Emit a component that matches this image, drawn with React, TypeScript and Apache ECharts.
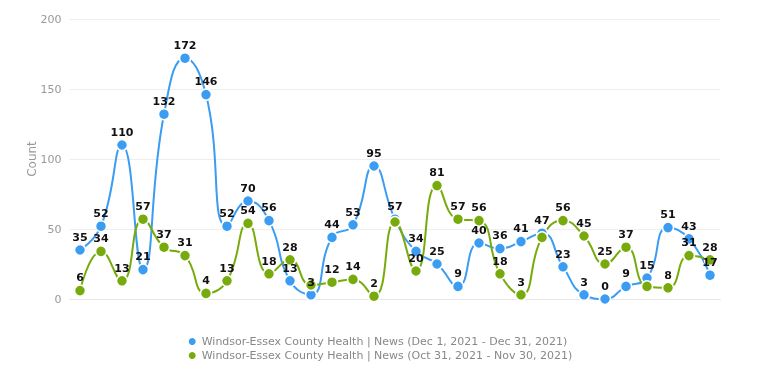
import React, { useEffect, useRef } from "react";
import * as echarts from "echarts";

const categories = Array.from({ length: 31 }, (_, i) => `Day ${i + 1}`);
const decValues = [35, 52, 110, 21, 132, 172, 146, 52, 70, 56, 13, 3, 44, 53, 95, 57, 34, 25, 9, 40, 36, 41, 47, 23, 3, 0, 9, 15, 51, 43, 17];
const novValues = [6, 34, 13, 57, 37, 31, 4, 13, 54, 18, 28, 10, 12, 14, 2, 55, 20, 81, 57, 56, 18, 3, 44, 56, 45, 25, 37, 9, 8, 31, 28];
const seriesNames = [
  "Windsor-Essex County Health | News (Dec 1, 2021 - Dec 31, 2021)",
  "Windsor-Essex County Health | News (Oct 31, 2021 - Nov 30, 2021)",
];
const colors = ["#3a9cf2", "#77ab0c"];

export default function App() {
  const ref = useRef<HTMLDivElement>(null);
  useEffect(() => {
    if (!ref.current) return;
    const chart = echarts.init(ref.current, null, { renderer: "svg" });
    const mk = (name: string, data: number[], color: string) => ({
      name,
      type: "line",
      smooth: true,
      data,
      symbol: "circle",
      symbolSize: 11,
      color,
      lineStyle: { width: 2, color },
      itemStyle: { color, borderColor: "#fff", borderWidth: 1.5 },
      label: {
        show: true,
        position: "top",
        color: "#111",
        fontWeight: "bold",
        fontSize: 11,
        fontFamily: "DejaVu Sans",
        distance: 1,
      },
      labelLayout: { hideOverlap: true },
    });
    chart.setOption({
      animation: false,
      textStyle: { fontFamily: "DejaVu Sans" },
      grid: { left: 69.5, right: 38.5, top: 19, bottom: 77 },
      legend: {
        orient: "vertical",
        bottom: 10,
        left: "center",
        icon: "circle",
        itemWidth: 9,
        itemHeight: 9,
        itemGap: 3,
        textStyle: { color: "#888", fontSize: 11, fontFamily: "DejaVu Sans" },
        data: seriesNames,
      },
      xAxis: {
        type: "category",
        data: categories,
        boundaryGap: true,
        axisLine: { lineStyle: { color: "#e6e6e6" } },
        axisTick: { alignWithLabel: true, lineStyle: { color: "#e6e6e6" }, length: 5 },
        axisLabel: { show: false },
      },
      yAxis: {
        type: "value",
        min: 0,
        max: 200,
        interval: 50,
        name: "Count",
        nameLocation: "middle",
        nameGap: 32,
        nameMoveOverlap: false,
        nameTextStyle: { color: "#999", fontSize: 12 },
        axisLine: { show: false },
        axisTick: { show: false },
        axisLabel: { color: "#999", fontSize: 11, margin: 8 },
        splitLine: { lineStyle: { color: "#eeeeee" } },
      },
      series: [
        mk(seriesNames[0], decValues, colors[0]),
        mk(seriesNames[1], novValues, colors[1]),
      ],
    });
    return () => chart.dispose();
  }, []);
  return <div ref={ref} style={{ position: "fixed", left: 0, top: 0, width: 759, height: 376 }} />;
}
